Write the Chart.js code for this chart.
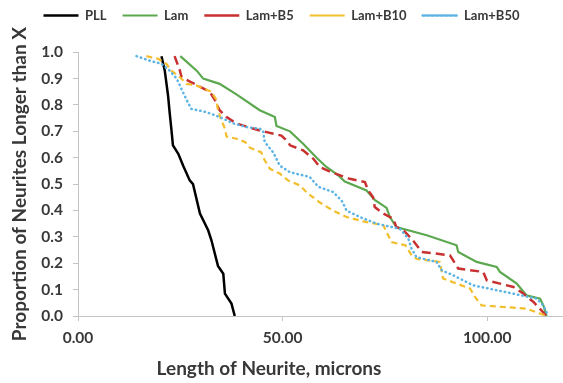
<!DOCTYPE html>
<html>
<head>
<meta charset="utf-8">
<script src="https://cdn.jsdelivr.net/npm/chart.js@4"></script>
<style>
html,body{margin:0;padding:0;background:#fff;overflow:hidden;}
canvas{display:block;}
</style>
</head>
<body>
<canvas id="c" width="563" height="383"></canvas>
<script>
// Series names
const seriesNames = ["PLL", "Lam", "Lam+B5", "Lam+B10", "Lam+B50"];

// tick values
const xTickValues = [0, 50, 100];
const yTickValues = [0, 0.1, 0.2, 0.3, 0.4, 0.5, 0.6, 0.7, 0.8, 0.9, 1.0];

// PLL
const pllX = [20.4, 21.2, 22.0, 22.4, 22.8, 23.2, 24.5, 25.7, 27.3, 28.1, 29.8, 31.8, 32.6, 34.2, 35.5, 35.9, 37.5, 38.3];
const pllY = [0.985, 0.93, 0.836, 0.77, 0.71, 0.647, 0.615, 0.57, 0.514, 0.50, 0.388, 0.325, 0.287, 0.19, 0.16, 0.085, 0.047, 0.0];

// Lam
const lamX = [25.0, 29.0, 30.6, 34.6, 38.7, 44.4, 48.1, 48.5, 51.8, 55.0, 58.3, 60.7, 63.6, 65.2, 70.5, 72.5, 75.4, 76.2, 77.8, 85.2, 92.5, 92.9, 97.4, 102.3, 103.1, 107.2, 109.6, 112.9, 113.7, 114.5];
const lamY = [0.985, 0.93, 0.90, 0.88, 0.84, 0.78, 0.754, 0.72, 0.70, 0.653, 0.60, 0.565, 0.533, 0.51, 0.476, 0.44, 0.41, 0.375, 0.337, 0.306, 0.268, 0.243, 0.205, 0.186, 0.167, 0.123, 0.078, 0.066, 0.04, 0.0];

// Lam+B5
const b5X = [23.6, 24.9, 25.3, 27.7, 32.2, 33.4, 34.6, 36.3, 38.7, 41.6, 44.4, 46.1, 49.7, 51.3, 51.8, 55.0, 57.5, 59.1, 61.9, 66.4, 70.1, 70.9, 72.1, 72.5, 74.6, 77.0, 77.8, 79.5, 81.5, 84.0, 90.9, 92.9, 99.0, 99.9, 106.4, 108.8, 111.3, 114.5];
const b5Y = [0.985, 0.93, 0.905, 0.886, 0.85, 0.82, 0.78, 0.754, 0.73, 0.716, 0.703, 0.697, 0.684, 0.66, 0.647, 0.628, 0.596, 0.565, 0.545, 0.52, 0.508, 0.476, 0.45, 0.413, 0.388, 0.369, 0.337, 0.325, 0.293, 0.243, 0.23, 0.18, 0.167, 0.135, 0.11, 0.085, 0.053, 0.0];

// Lam+B10
const b10X = [16.7, 19.6, 21.6, 22.8, 24.9, 26.5, 28.9, 32.6, 33.8, 34.2, 35.1, 35.9, 36.3, 38.7, 40.8, 42.0, 44.8, 45.6, 46.9, 49.3, 51.3, 54.2, 56.2, 59.1, 62.3, 65.6, 70.5, 74.6, 75.4, 76.6, 80.0, 81.5, 82.7, 88.4, 89.2, 95.8, 97.0, 98.6, 109.6, 114.5];
const b10Y = [0.985, 0.975, 0.956, 0.93, 0.905, 0.88, 0.874, 0.85, 0.82, 0.78, 0.74, 0.71, 0.68, 0.672, 0.66, 0.638, 0.62, 0.59, 0.558, 0.54, 0.514, 0.495, 0.464, 0.43, 0.40, 0.375, 0.356, 0.344, 0.318, 0.28, 0.268, 0.23, 0.217, 0.205, 0.142, 0.104, 0.072, 0.04, 0.028, 0.0];

// Lam+B50
const b50X = [14.3, 17.5, 20.4, 22.4, 24.1, 25.3, 26.5, 27.7, 31.4, 34.6, 38.0, 41.2, 44.4, 45.2, 45.6, 47.7, 49.3, 51.8, 56.6, 58.7, 62.3, 64.4, 65.6, 68.9, 73.0, 78.7, 80.7, 81.5, 82.7, 87.6, 88.9, 91.7, 96.6, 104.7, 112.0, 113.7, 114.9];
const b50Y = [0.985, 0.968, 0.956, 0.93, 0.90, 0.86, 0.82, 0.785, 0.773, 0.754, 0.73, 0.716, 0.71, 0.703, 0.66, 0.62, 0.57, 0.545, 0.527, 0.49, 0.47, 0.438, 0.40, 0.375, 0.35, 0.33, 0.293, 0.255, 0.223, 0.205, 0.173, 0.154, 0.116, 0.09, 0.066, 0.04, 0.0];

const xTitle = "Length of Neurite, microns";
const yTitle = "Proportion of Neurites Longer than X";

function pts(xs, ys) { return xs.map((x, i) => ({x: x, y: ys[i]})); }

const FONT = "Lato, 'Open Sans', sans-serif";
const TXT = "#383838";
const AX = "#c4c4c4";

const styles = [
  {borderColor: "#000000", borderWidth: 2.5, borderDash: [], order: 5},
  {borderColor: "#5ca84f", borderWidth: 2.2, borderDash: [], order: 4},
  {borderColor: "#c8312f", borderWidth: 2.5, borderDash: [9, 5], order: 3},
  {borderColor: "#f2be2c", borderWidth: 2.2, borderDash: [6, 4], order: 2},
  {borderColor: "#5cb4e4", borderWidth: 2.5, borderDash: [0.5, 4], borderCapStyle: "round", order: 1}
];
const seriesData = [pts(pllX, pllY), pts(lamX, lamY), pts(b5X, b5Y), pts(b10X, b10Y), pts(b50X, b50Y)];

const datasets = seriesNames.map((name, i) => Object.assign({
  label: name,
  data: seriesData[i],
  backgroundColor: "transparent",
  pointRadius: 0,
  tension: 0,
  fill: false,
  borderCapStyle: "butt"
}, styles[i]));

const xTitlePlugin = {
  id: "xTitlePlugin",
  afterDraw(chart) {
    const ctx = chart.ctx;
    ctx.save();
    ctx.font = "bold 19px " + FONT;
    ctx.fillStyle = TXT;
    ctx.textAlign = "center";
    ctx.textBaseline = "alphabetic";
    ctx.fillText(xTitle, 269, 375);
    ctx.restore();
  }
};

new Chart(document.getElementById("c"), {
  type: "line",
  data: {datasets: datasets},
  plugins: [xTitlePlugin],
  options: {
    responsive: false,
    animation: false,
    layout: {padding: {left: 0, right: 0, top: -7, bottom: 0}},
    plugins: {
      tooltip: {enabled: false},
      legend: {
        position: "top",
        weight: 1000,
        labels: {
          boxWidth: 35,
          boxHeight: 0,
          padding: 16,
          color: TXT,
          font: {family: FONT, size: 13, weight: "bold"},
          sort: (a, b) => a.datasetIndex - b.datasetIndex
        }
      },
      subtitle: {
        display: true,
        text: " ",
        weight: 500,
        font: {size: 1},
        padding: {top: 0, bottom: 19}
      }
    },
    scales: {
      x: {
        type: "linear",
        min: 0,
        max: 118.5,
        afterBuildTicks: (s) => { s.ticks = xTickValues.map(v => ({value: v})); },
        afterFit: (s) => { s.height = 67; },
        border: {display: true, color: AX, width: 1},
        grid: {display: true, drawOnChartArea: false, drawTicks: true, tickLength: 5, color: AX},
        ticks: {
          color: TXT,
          padding: 8,
          maxRotation: 0,
          font: {family: FONT, size: 15.5, weight: "bold"},
          callback: (v) => Number(v).toFixed(2)
        }
      },
      y: {
        type: "linear",
        min: 0,
        max: 1,
        afterBuildTicks: (s) => { s.ticks = yTickValues.map(v => ({value: v})); },
        afterFit: (s) => { s.width = 78; },
        border: {display: true, color: AX, width: 1},
        grid: {display: true, drawOnChartArea: false, drawTicks: true, tickLength: 5, color: AX},
        title: {
          display: true,
          text: yTitle,
          color: TXT,
          font: {family: FONT, size: 19, weight: "bold"},
          padding: {top: 8, bottom: 0}
        },
        ticks: {
          color: TXT,
          padding: 10,
          font: {family: FONT, size: 15.5, weight: "bold"},
          callback: (v) => Number(v).toFixed(1)
        }
      }
    }
  }
});
</script>
</body>
</html>
